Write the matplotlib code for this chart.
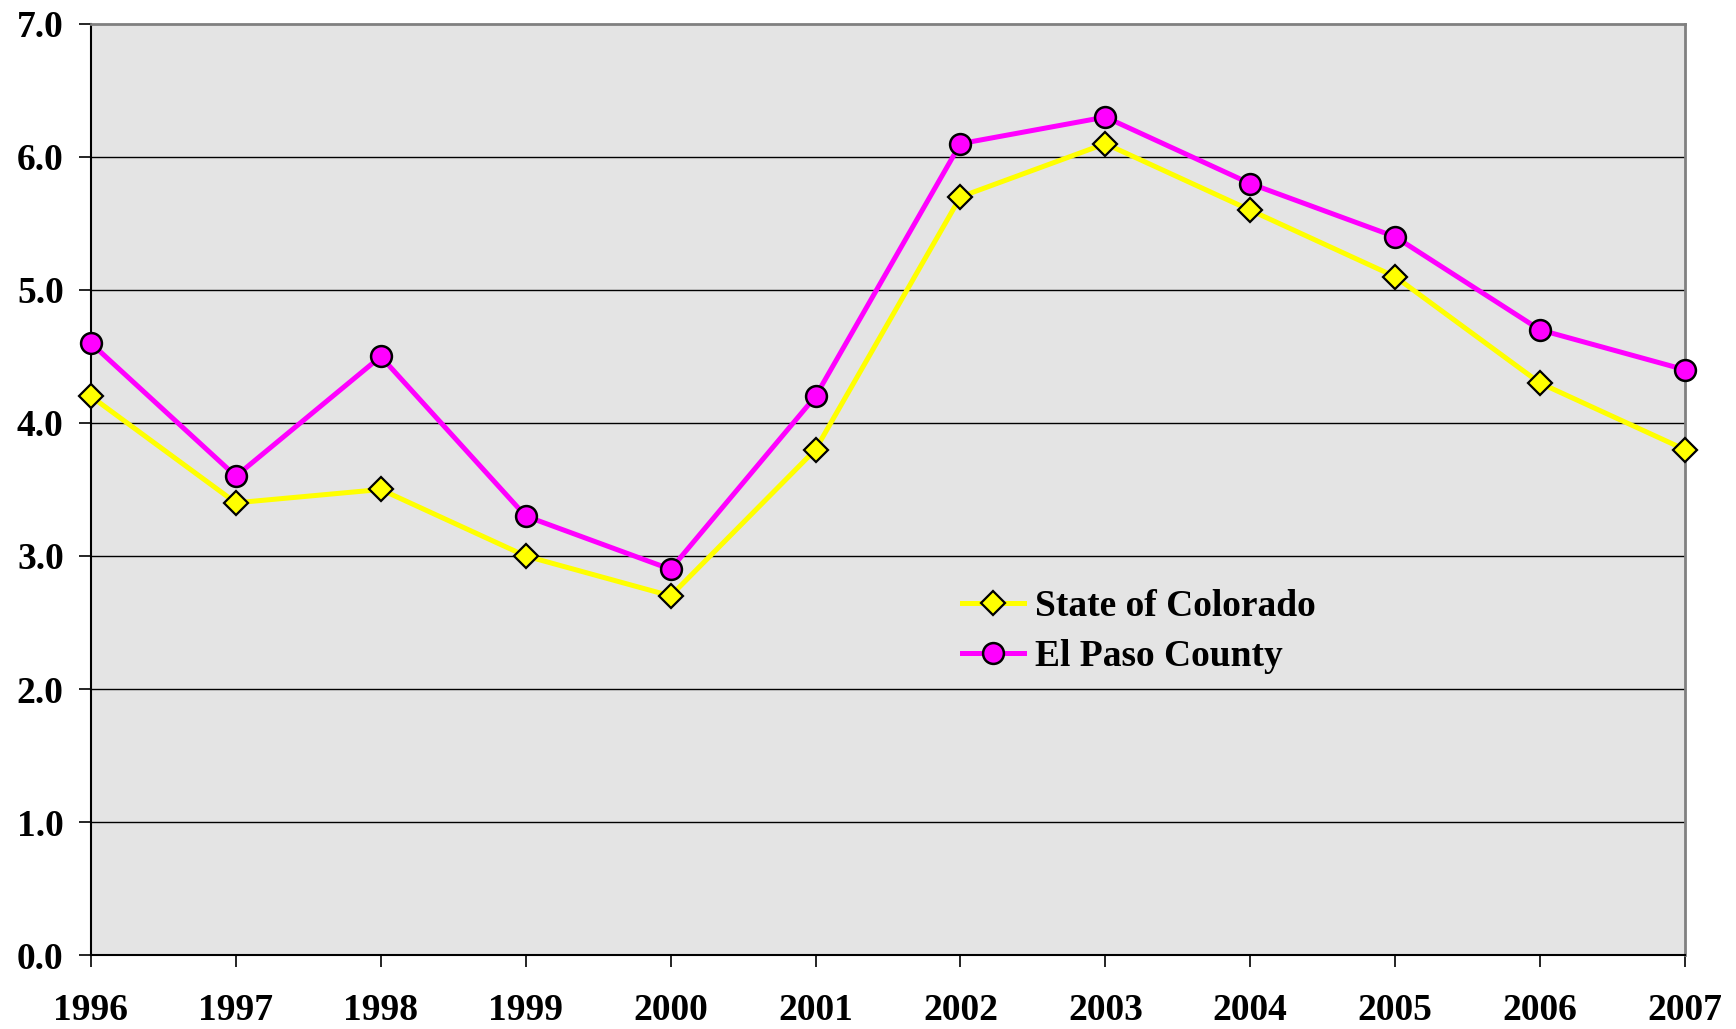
import matplotlib.pyplot as plt
import numpy as np

years = [1996, 1997, 1998, 1999, 2000, 2001, 2002, 2003, 2004, 2005, 2006, 2007]
colorado = [4.2, 3.4, 3.5, 3.0, 2.7, 3.8, 5.7, 6.1, 5.6, 5.1, 4.3, 3.8]
el_paso = [4.6, 3.6, 4.5, 3.3, 2.9, 4.2, 6.1, 6.3, 5.8, 5.4, 4.7, 4.4]
y_ticks = [0.0, 1.0, 2.0, 3.0, 4.0, 5.0, 6.0, 7.0]

plt.rcParams['font.family'] = ['Liberation Serif', 'DejaVu Serif']
plt.rcParams['font.weight'] = 'bold'

fig = plt.figure(figsize=(17.36, 10.29), dpi=100)
ax = fig.add_axes([0.0524, 0.0719, 0.9182, 0.9048])
ax.set_facecolor('#e4e4e4')

# gridlines
for v in y_ticks[1:-1]:
    ax.axhline(v, color='black', linewidth=1.0, zorder=1)

ax.plot(years, colorado, color='#ffff00', linewidth=3.6, marker='D',
        markersize=12, markerfacecolor='#ffff00', markeredgecolor='black',
        markeredgewidth=1.6, label='State of Colorado', zorder=3, clip_on=False)
ax.plot(years, el_paso, color='#ff00ff', linewidth=3.6, marker='o',
        markersize=15, markerfacecolor='#ff00ff', markeredgecolor='black',
        markeredgewidth=1.8, label='El Paso County', zorder=4, clip_on=False)

ax.set_xlim(1996, 2007)
ax.set_ylim(0, 7)
ax.set_xticks(years)
ax.set_xticklabels([str(y) for y in years])
ax.set_yticks(y_ticks)
ax.set_yticklabels(['%.1f' % v for v in y_ticks])

ax.tick_params(axis='both', labelsize=27, length=8.6, width=1.2, direction='out')
ax.tick_params(axis='x', pad=19)
ax.tick_params(axis='y', pad=11)
for lab in ax.get_xticklabels() + ax.get_yticklabels():
    lab.set_fontweight('bold')

ax.spines['left'].set_color('black')
ax.spines['bottom'].set_color('black')
ax.spines['left'].set_linewidth(1.5)
ax.spines['bottom'].set_linewidth(1.5)
ax.spines['top'].set_color('#808080')
ax.spines['right'].set_color('#808080')
ax.spines['top'].set_linewidth(2)
ax.spines['right'].set_linewidth(2)

leg = ax.legend(loc='upper left', bbox_to_anchor=(0.537, 0.409), frameon=False,
                prop={'size': 27, 'weight': 'bold'}, handlelength=1.65,
                handletextpad=0.3, labelspacing=0.39, borderaxespad=0)

fig.savefig('out.png', dpi=100)
